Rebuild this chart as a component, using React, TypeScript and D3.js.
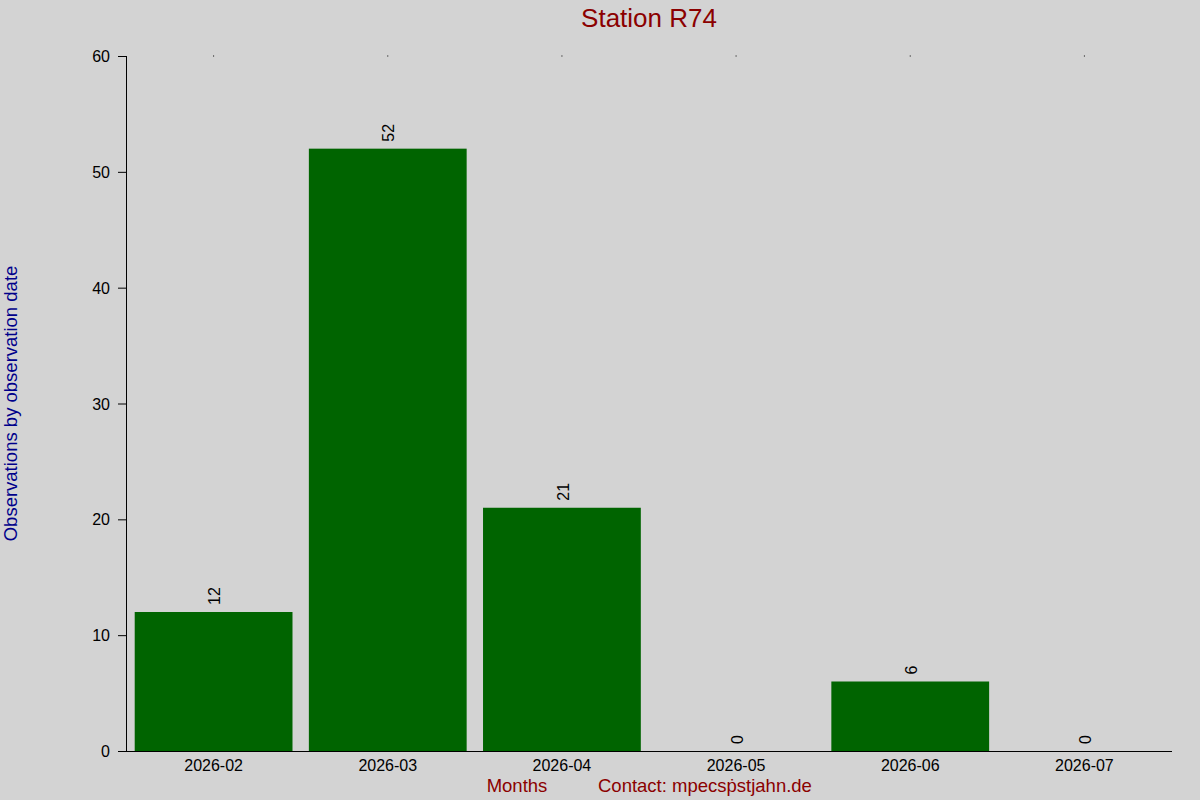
import { useEffect, useRef } from 'react';
import * as d3 from 'd3';

const months = ['2026-02', '2026-03', '2026-04', '2026-05', '2026-06', '2026-07'];
const counts = [12, 52, 21, 0, 6, 0];
const yTicks = [0, 10, 20, 30, 40, 50, 60];

const width = 1200;
const height = 800;
const font = '"Liberation Sans", Arial, sans-serif';

export default function App() {
  const svgRef = useRef<SVGSVGElement>(null);

  useEffect(() => {
    if (!svgRef.current) return;
    const svg = d3.select(svgRef.current);
    svg.selectAll('*').remove();

    const left = 126;
    const right = 1172;
    const top = 56;
    const bottom = 751;

    svg.append('rect')
      .attr('width', width)
      .attr('height', height)
      .attr('fill', '#d3d3d3');

    const x = d3.scaleBand<string>()
      .domain(months)
      .range([left, right])
      .paddingInner(0.094)
      .paddingOuter(0.05);

    const y = d3.scaleLinear()
      .domain([0, 60])
      .range([bottom, top]);

    // bars
    svg.selectAll('rect.bar')
      .data(counts)
      .enter()
      .append('rect')
      .attr('class', 'bar')
      .attr('x', (_d, i) => x(months[i])!)
      .attr('y', d => y(d))
      .attr('width', x.bandwidth())
      .attr('height', d => y(0) - y(d))
      .attr('fill', '#006400');

    // value labels
    svg.selectAll('text.val')
      .data(counts)
      .enter()
      .append('text')
      .attr('class', 'val')
      .attr('transform', (d, i) => {
        const cx = x(months[i])! + x.bandwidth() / 2 + 2.5;
        return `translate(${cx},${y(d) - 7}) rotate(-90)`;
      })
      .attr('dominant-baseline', 'middle')
      .attr('font-family', font)
      .attr('font-size', '16px')
      .attr('fill', '#000')
      .text(d => String(d));

    // top dots
    months.forEach(m => {
      svg.append('rect')
        .attr('x', x(m)! + x.bandwidth() / 2 - 0.5)
        .attr('y', top - 0.5)
        .attr('width', 1)
        .attr('height', 1)
        .attr('fill', '#000');
    });

    // y axis
    svg.append('line')
      .attr('x1', left + 0.5).attr('x2', left + 0.5)
      .attr('y1', top).attr('y2', bottom)
      .attr('stroke', '#000');
    yTicks.forEach(t => {
      svg.append('line')
        .attr('x1', left - 8).attr('x2', left)
        .attr('y1', y(t) + 0.5).attr('y2', y(t) + 0.5)
        .attr('stroke', '#000');
      svg.append('text')
        .attr('x', left - 16)
        .attr('y', y(t) + 6)
        .attr('text-anchor', 'end')
        .attr('font-family', font)
        .attr('font-size', '16px')
        .attr('fill', '#000')
        .text(String(t));
    });

    // x axis
    svg.append('line')
      .attr('x1', left - 8).attr('x2', right)
      .attr('y1', bottom + 0.5).attr('y2', bottom + 0.5)
      .attr('stroke', '#000');
    months.forEach(m => {
      svg.append('text')
        .attr('x', x(m)! + x.bandwidth() / 2)
        .attr('y', bottom + 20)
        .attr('text-anchor', 'middle')
        .attr('font-family', font)
        .attr('font-size', '16px')
        .attr('fill', '#000')
        .text(m);
    });

    // title
    svg.append('text')
      .attr('x', (left + right) / 2)
      .attr('y', 27)
      .attr('text-anchor', 'middle')
      .attr('font-family', font)
      .attr('font-size', '26px')
      .attr('fill', '#8b0000')
      .text('Station R74');

    // y label
    svg.append('text')
      .attr('transform', `translate(17,${(top + bottom) / 2}) rotate(-90)`)
      .attr('text-anchor', 'middle')
      .attr('font-family', font)
      .attr('font-size', '18.5px')
      .attr('fill', '#00008b')
      .text('Observations by observation date');

    // x label and contact
    svg.append('text')
      .attr('x', 517)
      .attr('y', 792)
      .attr('text-anchor', 'middle')
      .attr('font-family', font)
      .attr('font-size', '18.5px')
      .attr('fill', '#8b0000')
      .text('Months');

    svg.append('text')
      .attr('x', 598)
      .attr('y', 792)
      .attr('font-family', font)
      .attr('font-size', '18.5px')
      .attr('fill', '#8b0000')
      .text('Contact: mpecs\u1e57stjahn.de');
  }, []);

  return (
    <svg
      ref={svgRef}
      width={width}
      height={height}
      style={{ position: 'absolute', left: 0, top: 0, display: 'block' }}
    />
  );
}
